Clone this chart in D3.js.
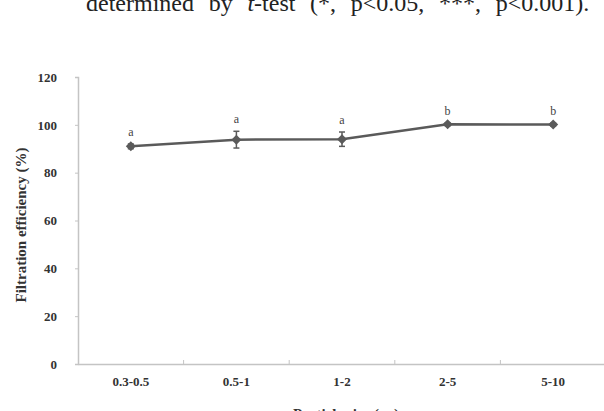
<!DOCTYPE html>
<html>
<head>
<meta charset="utf-8">
<script src="https://cdn.jsdelivr.net/npm/d3@7"></script>
<style>
  body { margin: 0; background: #fff; }
  svg { display: block; }
  text { font-family: "Liberation Serif", "DejaVu Serif", serif; }
</style>
</head>
<body>
<div class="chart"></div>
<script>
const categories = ['0.3-0.5', '0.5-1', '1-2', '2-5', '5-10'];
const efficiency = [91, 93.8, 94, 100.2, 100.1];
const errors = [1.0, 3.5, 3.0, 0.6, 0.6];
const letters = ['a', 'a', 'a', 'b', 'b'];
const yTicks = [0, 20, 40, 60, 80, 100, 120];

const width = 604, height = 411;
const margin = { top: 77, right: -2, bottom: 47, left: 78 };

const svg = d3.select('.chart').append('svg')
  .attr('width', width)
  .attr('height', height);

// caption fragment cut off at top of the page
const cap = svg.append('text')
  .attr('x', 86)
  .attr('y', 11)
  .style('font-size', '24px')
  .style('fill', '#222');
cap.append('tspan').text('determined by ');
cap.append('tspan').style('font-style', 'italic').text('t');
cap.append('tspan').text('-test (*, p<0.05, ***, p<0.001).');
// stretch the gaps between words so the line is justified like the source
const capW = cap.node().getComputedTextLength();
cap.style('word-spacing', ((598 - 86 - capW) / 7) + 'px');

const x = d3.scaleBand()
  .domain(categories)
  .range([margin.left, width - margin.right]);

const y = d3.scaleLinear()
  .domain([0, 120])
  .range([height - margin.bottom, margin.top]);

const axisColor = '#c4c4c4';

// y axis
const yAxis = svg.append('g')
  .attr('transform', 'translate(' + margin.left + ',0)')
  .call(d3.axisLeft(y).tickValues(yTicks).tickSize(3).tickPadding(18));
yAxis.select('.domain').attr('stroke', axisColor).attr('stroke-width', 1.5);
yAxis.selectAll('.tick line').attr('stroke', axisColor);
yAxis.selectAll('.tick text')
  .style('font-size', '13px')
  .style('font-weight', '700')
  .style('fill', '#333');

// x axis
const xAxis = svg.append('g')
  .attr('transform', 'translate(0,' + y(0) + ')')
  .call(d3.axisBottom(x).tickSize(0).tickPadding(13));
xAxis.select('.domain').attr('stroke', axisColor).attr('stroke-width', 1.5);
xAxis.selectAll('.tick text')
  .style('font-size', '13px')
  .style('font-weight', '700')
  .style('fill', '#333');
// tick marks at band boundaries
xAxis.selectAll('.bound')
  .data(categories.slice(1))
  .enter().append('line')
  .attr('class', 'bound')
  .attr('x1', d => x(d))
  .attr('x2', d => x(d))
  .attr('y1', 0)
  .attr('y2', -4)
  .attr('stroke', axisColor);

// axis titles
svg.append('text')
  .attr('transform', 'translate(26,' + 225 + ') rotate(-90)')
  .attr('text-anchor', 'middle')
  .style('font-size', '15px')
  .style('font-weight', '700')
  .style('fill', '#333')
  .text('Filtration efficiency (%)');

svg.append('text')
  .attr('x', 346)
  .attr('y', 419)
  .attr('text-anchor', 'middle')
  .style('font-size', '15px')
  .style('font-weight', '700')
  .style('fill', '#333')
  .text('Particle size (㎛)');

const cx = d => x(d) + x.bandwidth() / 2;
const pts = categories.map((c, i) => ({ c: c, v: efficiency[i], e: errors[i], l: letters[i] }));

const lineColor = '#5a5a5a';

svg.append('path')
  .datum(pts)
  .attr('fill', 'none')
  .attr('stroke', lineColor)
  .attr('stroke-width', 2.5)
  .attr('d', d3.line().x(d => cx(d.c)).y(d => y(d.v)));

// error bars
const eb = svg.selectAll('.err')
  .data(pts)
  .enter().append('g')
  .attr('class', 'err')
  .attr('stroke', lineColor)
  .attr('stroke-width', 1.5);
eb.append('line')
  .attr('x1', d => cx(d.c)).attr('x2', d => cx(d.c))
  .attr('y1', d => y(d.v - d.e)).attr('y2', d => y(d.v + d.e));
eb.append('line')
  .attr('x1', d => cx(d.c) - 3).attr('x2', d => cx(d.c) + 3)
  .attr('y1', d => y(d.v - d.e)).attr('y2', d => y(d.v - d.e));
eb.append('line')
  .attr('x1', d => cx(d.c) - 3).attr('x2', d => cx(d.c) + 3)
  .attr('y1', d => y(d.v + d.e)).attr('y2', d => y(d.v + d.e));

// diamond markers (square turned 45 degrees)
svg.selectAll('.pt')
  .data(pts)
  .enter().append('path')
  .attr('class', 'pt')
  .attr('d', d3.symbol().type(d3.symbolSquare).size(50))
  .attr('transform', d => 'translate(' + cx(d.c) + ',' + y(d.v) + ') rotate(45)')
  .attr('fill', lineColor);

// significance letters
svg.selectAll('.lbl')
  .data(pts)
  .enter().append('text')
  .attr('class', 'lbl')
  .attr('x', d => cx(d.c))
  .attr('y', d => y(d.v + d.e) - 8)
  .attr('text-anchor', 'middle')
  .style('font-size', '12px')
  .style('fill', '#444')
  .text(d => d.l);
</script>
</body>
</html>
